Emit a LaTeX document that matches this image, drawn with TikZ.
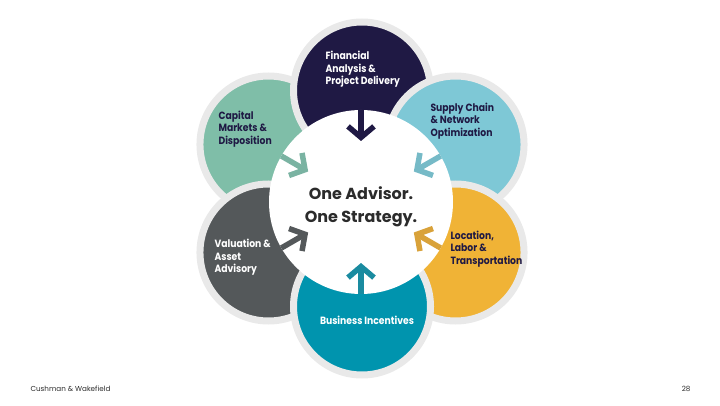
\documentclass[tikz,border=0pt]{standalone}
\usepackage{fontspec}
\setmainfont{Poppins}
\newfontfamily\tagfont{Poppins}[FakeStretch=0.88]
\usetikzlibrary{arrows.meta}
\definecolor{cwnavy}{HTML}{1F1944}
\definecolor{cwsky}{HTML}{7EC8D6}
\definecolor{cwgold}{HTML}{F0B336}
\definecolor{cwteal}{HTML}{0094AE}
\definecolor{cwslate}{HTML}{54585A}
\definecolor{cwsage}{HTML}{7FBEA8}
\definecolor{cwhalo}{HTML}{E9E9E9}
\definecolor{cwink}{HTML}{2B2B2B}
\definecolor{arsky}{HTML}{76BAC7}
\definecolor{argold}{HTML}{D9A23A}
\definecolor{arteal}{HTML}{1A8BA0}
\definecolor{arsage}{HTML}{7AB3A2}
\begin{document}
\begin{tikzpicture}[x=1pt, y=1pt, line join=miter,
  >={Straight Barb[length=11pt,width=26pt]},
  petal/.style={circle, fill=#1, draw=cwhalo, line width=7pt, minimum size=137pt, inner sep=0pt},
  core/.style={circle, fill=white, minimum size=184pt, inner sep=0pt, outer sep=0pt},
  tag/.style={align=left, anchor=west, font=\tagfont\bfseries\fontsize{10.5}{12.5}\selectfont},
  pointer/.style={->, line width=5.5pt, draw=#1}]
\def\d{108} % distance hub -> petal
\useasboundingbox (0,0) rectangle (720,405);
\coordinate (hub) at (362,206.5);
% petals, back to front
\node[petal=cwsage]  (capital)   at ([shift={(150:\d)}]hub) {};
\node[petal=cwslate] (valuation) at ([shift={(-150:\d)}]hub) {};
\node[petal=cwnavy]  (financial) at ([shift={(90:\d)}]hub) {};
\node[petal=cwsky]   (supply)    at ([shift={(30:\d)}]hub) {};
\node[petal=cwgold]  (location)  at ([shift={(-30:\d)}]hub) {};
\node[petal=cwteal]  (business)  at ([shift={(-90:\d)}]hub) {};
\node[core] (core) at (361,203) {};
\node[font=\bfseries\fontsize{16}{23}\selectfont, text=cwink, align=center] (motto) at (361,198.5) {One Advisor.\\One Strategy.};
% arrows into the core
\foreach \a/\c in {90/cwnavy, 30/arsky, -30/argold, -90/arteal, -150/cwslate, 150/arsage}
  \draw[pointer=\c] (core.\a) -- ([shift={(\a:61)}]core.center);
% labels
\node[tag, text=white]  (t1) at (322,335.5) {Financial\\Analysis \&\\Project Delivery};
\node[tag, text=cwnavy] (t2) at (427,284) {Supply Chain\\\& Network\\Optimization};
\node[tag, text=cwnavy] (t3) at (215,276) {Capital\\Markets \&\\Disposition};
\node[tag, text=white]  (t4) at (211,147.5) {Valuation \&\\Asset\\Advisory};
\node[tag, text=cwnavy] (t5) at (447,156) {Location,\\Labor \&\\Transportation};
\node[tag, text=white, anchor=center] (t6) at (367,85) {Business Incentives};
% footer
\node[font=\fontsize{7.2}{9}\selectfont, text=cwink, anchor=west] (brand) at (27,16) {Cushman \& Wakefield};
\node[font=\fontsize{7.2}{9}\selectfont, text=cwink, anchor=east] (page) at (694,16) {28};
\end{tikzpicture}
\end{document}
